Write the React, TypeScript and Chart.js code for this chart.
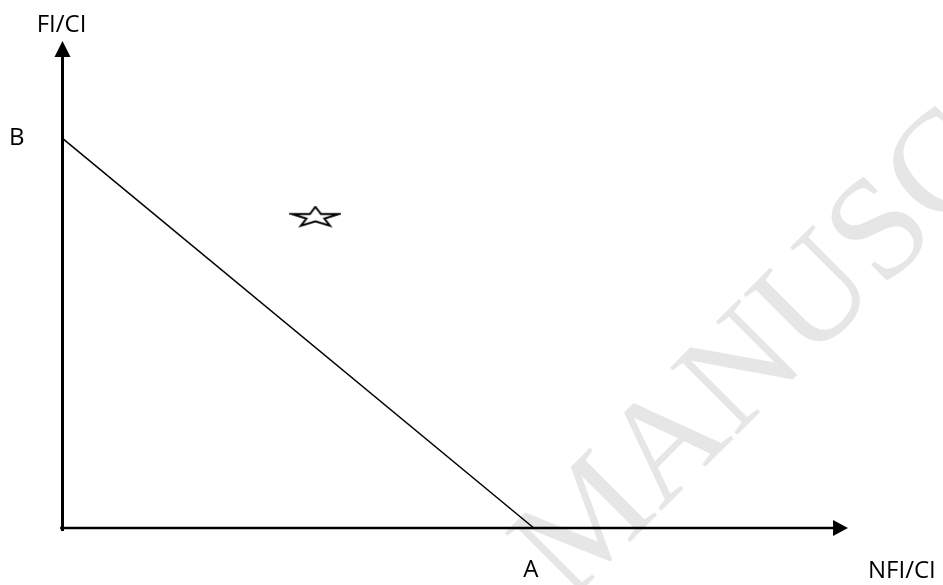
import React, { useEffect, useRef } from "react";
import { Chart, registerables } from "chart.js";

Chart.register(...registerables);

// Budget line endpoints (B on the vertical axis, A on the horizontal axis)
const budgetX = [0, 6];
const budgetY = [8, 0];
// Star marker
const starX = [3.22];
const starY = [6.37];
// Axis extents
const axisMax = [10, 10];
// Labels
const labels = { yTitle: "FI/CI", xTitle: "NFI/CI", pointB: "B", pointA: "A" };
const watermark = "MANUSCRIPT";

function makeStar(): HTMLCanvasElement {
  const c = document.createElement("canvas");
  const w = 52;
  const h = 24;
  c.width = w;
  c.height = h;
  const ctx = c.getContext("2d")!;
  const sx = 23.5 / 0.951;
  const sy = 19 / 1.809;
  const cx = w / 2;
  const cy = h / 2 - (1 - 0.809) * sy / 2 + 0.5;
  ctx.beginPath();
  for (let i = 0; i < 10; i++) {
    const r = i % 2 === 0 ? 1 : 0.382;
    const a = -Math.PI / 2 + (i * Math.PI) / 5;
    const px = cx + Math.cos(a) * r * sx;
    const py = cy + Math.sin(a) * r * sy;
    if (i === 0) ctx.moveTo(px, py);
    else ctx.lineTo(px, py);
  }
  ctx.closePath();
  ctx.fillStyle = "#ffffff";
  ctx.fill();
  ctx.lineWidth = 2;
  ctx.strokeStyle = "#000000";
  ctx.lineJoin = "miter";
  ctx.stroke();
  return c;
}

export default function App() {
  const ref = useRef<HTMLCanvasElement | null>(null);

  useEffect(() => {
    if (!ref.current) return;
    const star = makeStar();

    const decor = {
      id: "decor",
      beforeDatasetsDraw(chart: any) {
        const ctx = chart.ctx;
        ctx.save();
        ctx.translate(569, 603);
        ctx.rotate(-Math.PI / 4);
        ctx.font = "145px 'Liberation Serif'";
        ctx.fillStyle = "#e6e6e6";
        ctx.textBaseline = "alphabetic";
        ctx.textAlign = "left";
        ctx.fillText(watermark, 0, 0);
        ctx.restore();
      },
      afterDatasetsDraw(chart: any) {
        const ctx = chart.ctx;
        const xs = chart.scales.x;
        const ys = chart.scales.y;
        const x0 = xs.getPixelForValue(0);
        const y0 = ys.getPixelForValue(0);
        const xTip = xs.getPixelForValue(axisMax[0]);
        const yTip = ys.getPixelForValue(axisMax[1]);
        ctx.save();
        ctx.fillStyle = "#000";
        // y arrow
        ctx.beginPath();
        ctx.moveTo(x0, yTip);
        ctx.lineTo(x0 - 8, yTip + 16);
        ctx.lineTo(x0 + 8, yTip + 16);
        ctx.closePath();
        ctx.fill();
        // x arrow
        ctx.beginPath();
        ctx.moveTo(xTip, y0);
        ctx.lineTo(xTip - 15, y0 - 8);
        ctx.lineTo(xTip - 15, y0 + 8);
        ctx.closePath();
        ctx.fill();
        // labels
        ctx.font = "24px 'Open Sans'";
        ctx.textBaseline = "alphabetic";
        ctx.textAlign = "center";
        ctx.fillText(labels.yTitle, x0 - 1, yTip - 9);
        const bY = ys.getPixelForValue(budgetY[0]);
        ctx.textAlign = "left";
        ctx.fillText(labels.pointB, 9, bY + 7);
        const aX = xs.getPixelForValue(budgetX[1]);
        ctx.textAlign = "center";
        ctx.fillText(labels.pointA, aX - 3, y0 + 49);
        ctx.textAlign = "left";
        ctx.fillText(labels.xTitle, 868, y0 + 50);
        ctx.restore();
      },
    };

    const chart = new Chart(ref.current, {
      type: "scatter",
      data: {
        datasets: [
          {
            data: [
              { x: 0, y: -0.06 },
              { x: 0, y: axisMax[1] - 0.2 },
            ],
            showLine: true,
            borderColor: "#000",
            borderWidth: 3,
            pointRadius: 0,
            clip: false,
          },
          {
            data: [
              { x: -0.03, y: 0 },
              { x: axisMax[0] - 0.1, y: 0 },
            ],
            showLine: true,
            borderColor: "#000",
            borderWidth: 2.5,
            pointRadius: 0,
            clip: false,
          },
          {
            data: budgetX.map((x, i) => ({ x, y: budgetY[i] })),
            showLine: true,
            borderColor: "#000",
            borderWidth: 1.5,
            pointRadius: 0,
            clip: false,
          },
          {
            data: starX.map((x, i) => ({ x, y: starY[i] })),
            pointStyle: star as any,
            pointRadius: 10,
            showLine: false,
            clip: false,
          },
        ],
      },
      options: {
        animation: false,
        responsive: false,
        maintainAspectRatio: false,
        layout: { padding: { left: 62.5, right: 95, top: 41, bottom: 57 } },
        scales: {
          x: { type: "linear", min: 0, max: axisMax[0], display: false },
          y: { type: "linear", min: 0, max: axisMax[1], display: false },
        },
        plugins: { legend: { display: false }, tooltip: { enabled: false } },
      },
      plugins: [decor],
    });
    return () => chart.destroy();
  }, []);

  return (
    <div style={{ position: "fixed", left: 0, top: 0, width: 943, height: 585, background: "#fff" }}>
      <canvas ref={ref} width={943} height={585} style={{ width: 943, height: 585 }} />
    </div>
  );
}
